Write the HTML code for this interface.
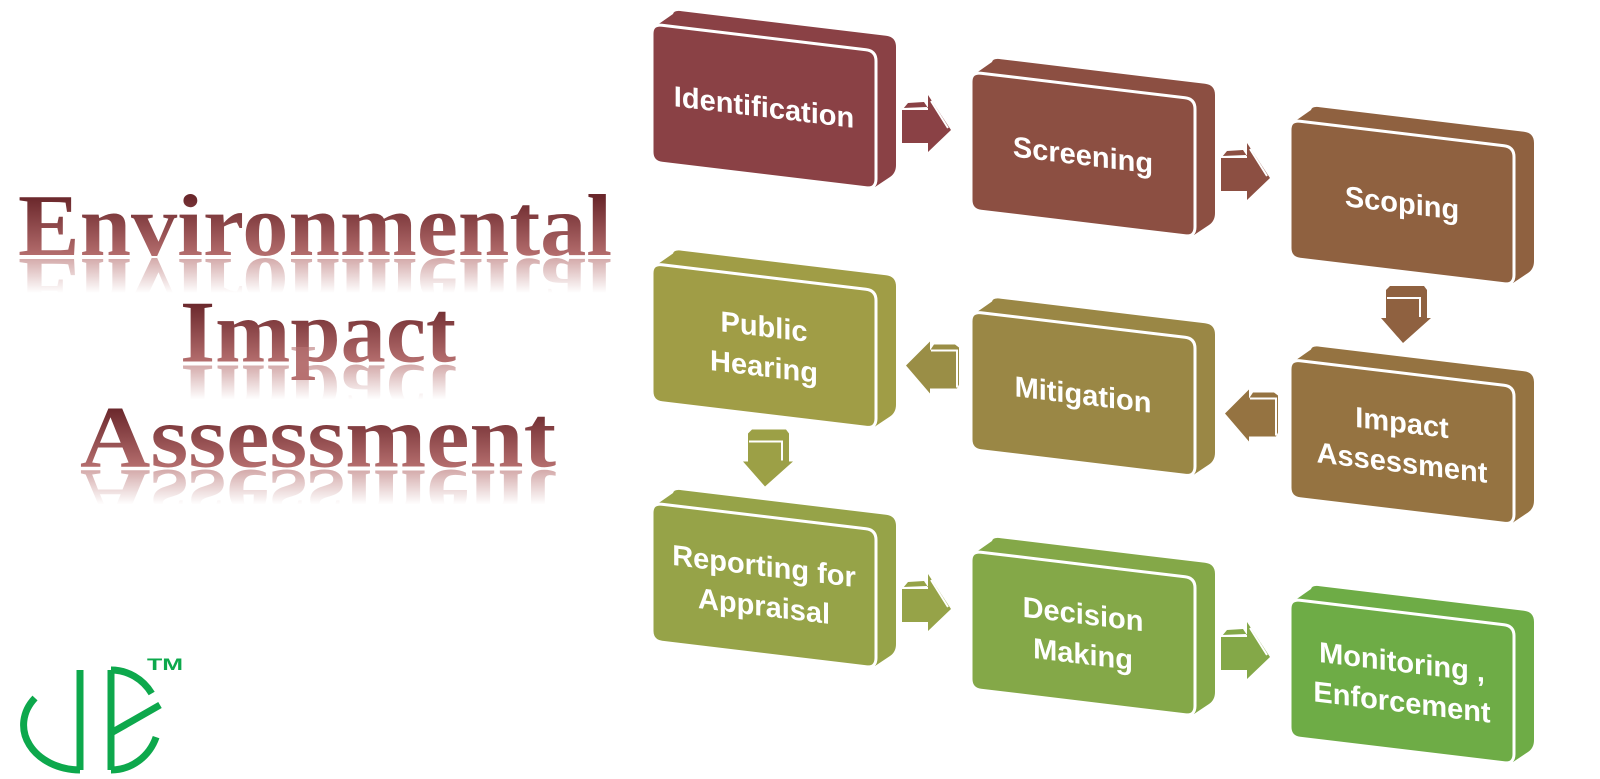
<!DOCTYPE html>
<html>
<head>
<meta charset="utf-8">
<style>
  html,body{margin:0;padding:0;background:#ffffff;}
  body{width:1600px;height:779px;overflow:hidden;}
  svg{display:block;}
  .t{font-family:"Liberation Sans",Arial,sans-serif;font-weight:bold;font-size:29px;fill:#ffffff;text-anchor:middle;}
  .ttl{font-family:"Liberation Serif","Times New Roman",serif;font-weight:bold;font-size:88px;}
</style>
</head>
<body>
<svg width="1600" height="779" viewBox="0 0 1600 779" xmlns="http://www.w3.org/2000/svg">
  <defs>
    <path id="front" d="M0,10 Q0,0 10,1.2 L214,25.8 Q224,27 224,37 L224,155 Q224,165 214,163.8 L10,139.2 Q0,138 0,128 Z"/>
    <path id="slab" d="M1,4 L21,-10 Q22,-14 30,-12.8 L234,11.8 Q244,13 244,23 L244,141 Q244,149 238,153 L223,163 Z"/>

    <linearGradient id="g1" gradientUnits="userSpaceOnUse" x1="0" y1="197" x2="0" y2="257">
      <stop offset="0" stop-color="#6A272B"/><stop offset="1" stop-color="#B66F6F"/>
    </linearGradient>
    <linearGradient id="g2" gradientUnits="userSpaceOnUse" x1="0" y1="303" x2="0" y2="363">
      <stop offset="0" stop-color="#6A272B"/><stop offset="1" stop-color="#B66F6F"/>
    </linearGradient>
    <linearGradient id="g3" gradientUnits="userSpaceOnUse" x1="0" y1="408" x2="0" y2="468">
      <stop offset="0" stop-color="#6A272B"/><stop offset="1" stop-color="#B66F6F"/>
    </linearGradient>

    <linearGradient id="r1" gradientUnits="userSpaceOnUse" x1="0" y1="255" x2="0" y2="221">
      <stop offset="0" stop-color="#B87474" stop-opacity="0.6"/><stop offset="1" stop-color="#B87474" stop-opacity="0"/>
    </linearGradient>
    <linearGradient id="r2" gradientUnits="userSpaceOnUse" x1="0" y1="361.5" x2="0" y2="327.5">
      <stop offset="0" stop-color="#B87474" stop-opacity="0.6"/><stop offset="1" stop-color="#B87474" stop-opacity="0"/>
    </linearGradient>
    <linearGradient id="r3" gradientUnits="userSpaceOnUse" x1="0" y1="466.5" x2="0" y2="432.5">
      <stop offset="0" stop-color="#B87474" stop-opacity="0.6"/><stop offset="1" stop-color="#B87474" stop-opacity="0"/>
    </linearGradient>
  </defs>

  <!-- ===== Title ===== -->
  <text class="ttl" x="18" y="255" textLength="594" lengthAdjust="spacingAndGlyphs" fill="url(#g1)">Environmental</text>
  <text class="ttl" x="18" y="255" textLength="594" lengthAdjust="spacingAndGlyphs" fill="url(#r1)" transform="matrix(1,0,0,-1,0,514)">Environmental</text>

  <text class="ttl" x="180" y="361.5" textLength="276" lengthAdjust="spacingAndGlyphs" fill="url(#g2)">Impact</text>
  <text class="ttl" x="180" y="361.5" textLength="276" lengthAdjust="spacingAndGlyphs" fill="url(#r2)" transform="matrix(1,0,0,-1,0,727)">Impact</text>

  <text class="ttl" x="80" y="466.5" textLength="476" lengthAdjust="spacingAndGlyphs" fill="url(#g3)">Assessment</text>
  <text class="ttl" x="80" y="466.5" textLength="476" lengthAdjust="spacingAndGlyphs" fill="url(#r3)" transform="matrix(1,0,0,-1,0,937)">Assessment</text>

  <!-- ===== Logo ===== -->
  <g fill="none" stroke="#0DA84C" stroke-width="7">
    <path d="M35,698 A57,45 0 0 0 80,770"/>
    <path d="M80,770 L80,670"/>
    <path d="M111,670 L111,770"/>
    <path d="M111,670 A48,50 0 0 1 151.7,693.5"/>
    <path d="M156.1,737.1 A48,50 0 0 1 111,770"/>
    <path d="M111,733 L160,705"/>
  </g>
  <text x="147" y="670" font-family="Liberation Sans,Arial,sans-serif" font-weight="bold" font-size="17" fill="#0DA84C" textLength="36" lengthAdjust="spacingAndGlyphs">TM</text>

  <!-- ===== Arrows ===== -->
  <!-- right arrows -->
  <g transform="translate(902,110)" fill="#8A4145">
    <polygon points="0,0 26,0 26,-15 49,20 26,42 26,33 0,33"/>
    <polygon points="1,-1 6,-7 22,-8 26,-2"/>
    <path d="M1,-1 L25,-2 M29,-9 L46,18" stroke="#fff" stroke-width="2" fill="none"/>
  </g>
  <g transform="translate(1221,158)" fill="#8C4F42">
    <polygon points="0,0 26,0 26,-15 49,20 26,42 26,33 0,33"/>
    <polygon points="1,-1 6,-7 22,-8 26,-2"/>
    <path d="M1,-1 L25,-2 M29,-9 L46,18" stroke="#fff" stroke-width="2" fill="none"/>
  </g>
  <g transform="translate(902,589)" fill="#96A348">
    <polygon points="0,0 26,0 26,-15 49,20 26,42 26,33 0,33"/>
    <polygon points="1,-1 6,-7 22,-8 26,-2"/>
    <path d="M1,-1 L25,-2 M29,-9 L46,18" stroke="#fff" stroke-width="2" fill="none"/>
  </g>
  <g transform="translate(1221,637)" fill="#84A848">
    <polygon points="0,0 26,0 26,-15 49,20 26,42 26,33 0,33"/>
    <polygon points="1,-1 6,-7 22,-8 26,-2"/>
    <path d="M1,-1 L25,-2 M29,-9 L46,18" stroke="#fff" stroke-width="2" fill="none"/>
  </g>

  <!-- left arrows -->
  <g transform="translate(1290,359.5)" fill="#957341">
    <polygon points="-65,54 -41,30 -41,39 -14,39 -14,77 -41,77 -41,82"/>
    <polygon points="-41,39 -37,33 -16,33 -12,36 -12,73 -14,77 -14,39"/>
    <path d="M-40,39 L-14,39 L-14,76" stroke="#fff" stroke-width="2" fill="none"/>
  </g>
  <g transform="translate(971,311.5)" fill="#9A8E46">
    <polygon points="-65,54 -41,30 -41,39 -14,39 -14,77 -41,77 -41,82"/>
    <polygon points="-41,39 -37,33 -16,33 -12,36 -12,73 -14,77 -14,39"/>
    <path d="M-40,39 L-14,39 L-14,76" stroke="#fff" stroke-width="2" fill="none"/>
  </g>

  <!-- down arrows -->
  <g transform="translate(1290,120)" fill="#8F6140">
    <polygon points="96,170 100,166 134,166 137,170 137,198 141,198 113,223 91,198 96,198"/>
    <path d="M97,178 L130,178 L130,197" stroke="#fff" stroke-width="2" fill="none"/>
  </g>
  <g transform="translate(652,263.5)" fill="#9CA046">
    <polygon points="96,170 100,166 134,166 137,170 137,198 141,198 113,223 91,198 96,198"/>
    <path d="M97,178 L130,178 L130,197" stroke="#fff" stroke-width="2" fill="none"/>
  </g>

  <!-- ===== Boxes ===== -->
  <!-- Row 1 -->
  <g transform="translate(652,24)">
    <use href="#slab" fill="#8A4145"/>
    <use href="#front" fill="#8A4145" stroke="#fff" stroke-width="3"/>
    <g transform="translate(112,82.5) skewY(6.88)"><text class="t" x="0" y="10.5">Identification</text></g>
  </g>
  <g transform="translate(971,72)">
    <use href="#slab" fill="#8C4F42"/>
    <use href="#front" fill="#8C4F42" stroke="#fff" stroke-width="3"/>
    <g transform="translate(112,82.5) skewY(6.88)"><text class="t" x="0" y="10.5">Screening</text></g>
  </g>
  <g transform="translate(1290,120)">
    <use href="#slab" fill="#8F6140"/>
    <use href="#front" fill="#8F6140" stroke="#fff" stroke-width="3"/>
    <g transform="translate(112,82.5) skewY(6.88)"><text class="t" x="0" y="10.5">Scoping</text></g>
  </g>

  <!-- Row 2 -->
  <g transform="translate(652,263.5)">
    <use href="#slab" fill="#A09D46"/>
    <use href="#front" fill="#A09D46" stroke="#fff" stroke-width="3"/>
    <g transform="translate(112,82.5) skewY(6.88)">
      <text class="t" x="0" y="-9.5">Public</text>
      <text class="t" x="0" y="30.5">Hearing</text>
    </g>
  </g>
  <g transform="translate(971,311.5)">
    <use href="#slab" fill="#9A8745"/>
    <use href="#front" fill="#9A8745" stroke="#fff" stroke-width="3"/>
    <g transform="translate(112,82.5) skewY(6.88)"><text class="t" x="0" y="10.5">Mitigation</text></g>
  </g>
  <g transform="translate(1290,359.5)">
    <use href="#slab" fill="#957341"/>
    <use href="#front" fill="#957341" stroke="#fff" stroke-width="3"/>
    <g transform="translate(112,82.5) skewY(6.88)">
      <text class="t" x="0" y="-9.5">Impact</text>
      <text class="t" x="0" y="30.5">Assessment</text>
    </g>
  </g>

  <!-- Row 3 -->
  <g transform="translate(652,503)">
    <use href="#slab" fill="#96A348"/>
    <use href="#front" fill="#96A348" stroke="#fff" stroke-width="3"/>
    <g transform="translate(112,82.5) skewY(6.88)">
      <text class="t" x="0" y="-9.5">Reporting for</text>
      <text class="t" x="0" y="30.5">Appraisal</text>
    </g>
  </g>
  <g transform="translate(971,551)">
    <use href="#slab" fill="#84A848"/>
    <use href="#front" fill="#84A848" stroke="#fff" stroke-width="3"/>
    <g transform="translate(112,82.5) skewY(6.88)">
      <text class="t" x="0" y="-9.5">Decision</text>
      <text class="t" x="0" y="30.5">Making</text>
    </g>
  </g>
  <g transform="translate(1290,599)">
    <use href="#slab" fill="#6EAC46"/>
    <use href="#front" fill="#6EAC46" stroke="#fff" stroke-width="3"/>
    <g transform="translate(112,82.5) skewY(6.88)">
      <text class="t" x="0" y="-9.5">Monitoring ,</text>
      <text class="t" x="0" y="30.5">Enforcement</text>
    </g>
  </g>
</svg>
</body>
</html>
